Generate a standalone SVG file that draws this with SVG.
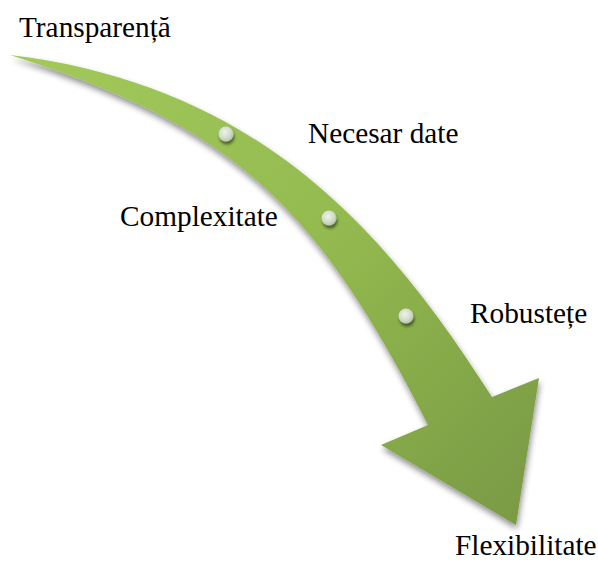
<svg xmlns="http://www.w3.org/2000/svg" width="598" height="566" viewBox="0 0 598 566">
  <defs>
    <style>
      .label { font-family: "Liberation Serif", "Times New Roman", serif; font-size: 29.3px; fill: #000; }
      .bead { fill: url(#beadFill); filter: url(#beadShadow); }
    </style>
    <linearGradient id="arrowFill" gradientUnits="userSpaceOnUse" x1="10" y1="55" x2="516" y2="525">
      <stop offset="0" stop-color="#a2c95a"/>
      <stop offset="0.5" stop-color="#94bb50"/>
      <stop offset="1" stop-color="#7a9a44"/>
    </linearGradient>
    <radialGradient id="beadFill" cx="0.42" cy="0.38" r="0.65">
      <stop offset="0" stop-color="#eef2ea"/>
      <stop offset="0.6" stop-color="#d3dccb"/>
      <stop offset="1" stop-color="#b4c0aa"/>
    </radialGradient>
    <filter id="arrowShadow" x="-10%" y="-10%" width="120%" height="120%">
      <feGaussianBlur in="SourceAlpha" stdDeviation="3"/>
      <feOffset dx="1" dy="4" result="blur"/>
      <feComponentTransfer><feFuncA type="linear" slope="0.45"/></feComponentTransfer>
      <feMerge><feMergeNode/><feMergeNode in="SourceGraphic"/></feMerge>
    </filter>
    <filter id="beadShadow" x="-60%" y="-60%" width="220%" height="220%">
      <feGaussianBlur in="SourceAlpha" stdDeviation="1.6"/>
      <feOffset dx="1" dy="3"/>
      <feComponentTransfer><feFuncA type="linear" slope="0.5"/></feComponentTransfer>
      <feMerge><feMergeNode/><feMergeNode in="SourceGraphic"/></feMerge>
    </filter>
  </defs>

  <!-- curved arrow -->
  <g id="connectors">
    <path id="arrow" filter="url(#arrowShadow)" fill="url(#arrowFill)"
          d="M10,55 C270,86 395,246 492,397 L539,378 L516,525 L381,445 L428,425 C315,202 230,125 10,55 Z"/>
  </g>

  <!-- beads along the arrow -->
  <g id="bead-1"><circle class="bead" cx="226" cy="134" r="7.5"/></g>
  <g id="bead-2"><circle class="bead" cx="329" cy="218" r="7.5"/></g>
  <g id="bead-3"><circle class="bead" cx="406" cy="316" r="7.5"/></g>

  <!-- labels -->
  <g id="transparenta"><text class="label" x="19" y="37">Transparență</text></g>
  <g id="necesar-date"><text class="label" x="308" y="143">Necesar date</text></g>
  <g id="complexitate"><text class="label" x="120" y="226">Complexitate</text></g>
  <g id="robustete"><text class="label" x="470" y="323">Robustețe</text></g>
  <g id="flexibilitate"><text class="label" x="455" y="555">Flexibilitate</text></g>
</svg>
